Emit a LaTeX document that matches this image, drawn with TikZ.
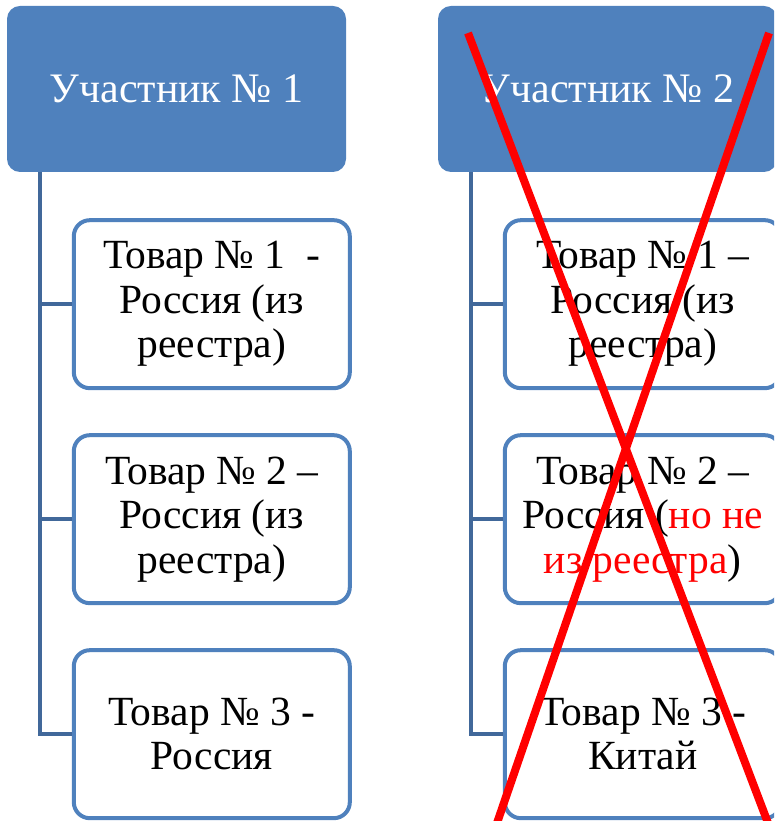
\documentclass[tikz,border=0pt]{standalone}
\usepackage{fontspec}
\setmainfont{Liberation Serif}
\usepackage{xcolor}
\usepackage{tikz}
\usetikzlibrary{positioning}
\definecolor{hdrblue}{HTML}{4F81BD}
\definecolor{trunkblue}{HTML}{41689A}
\tikzstyle{header}=[
fill=hdrblue,
rounded corners=13pt,
minimum width=339pt,
minimum height=166pt,
text=white,
font=\fontsize{42}{45}\selectfont
]
\tikzstyle{item}=[
draw=hdrblue,
line width=4pt,
fill=white,
rounded corners=16pt,
minimum width=276pt,
minimum height=168pt,
align=center,
font=\fontsize{41.5}{44.5}\selectfont
]
\tikzstyle{trunk}=[
draw=trunkblue,
line width=4.5pt
]
\tikzstyle{cross}=[
draw=red,
line width=8pt
]
\begin{document}
\begin{tikzpicture}[x=1pt,y=1pt,node distance=43pt]
\clip (0,0) rectangle (774,821);

\node (part1) [header] at (176.5,732) {Участник № 1};
\node (part2) [header] at (607.5,732) {Участник № 2};

\node (item11) [item, below=46pt of part1.south west, anchor=north west, xshift=65pt]
  {Товар № 1 \ -\\Россия (из\\реестра)};
\node (item12) [item, below=of item11] {Товар № 2 –\\Россия (из\\реестра)};
\node (item13) [item, below=of item12] {Товар № 3 -\\Россия};

\node (item21) [item, below=46pt of part2.south west, anchor=north west, xshift=65pt]
  {Товар № 1 –\\Россия (из\\реестра)};
\node (item22) [item, below=of item21]
  {Товар № 2 –\\Россия (\textcolor{red}{но не}\\\textcolor{red}{из реестра})};
\node (item23) [item, below=of item22] {Товар № 3 -\\Китай};

\draw [trunk] ([xshift=33pt]part1.south west) |- (item13.west);
\draw [trunk] ([xshift=33pt]part1.south west) |- (item11.west);
\draw [trunk] ([xshift=33pt]part1.south west) |- (item12.west);

\draw [trunk] ([xshift=33pt]part2.south west) |- (item23.west);
\draw [trunk] ([xshift=33pt]part2.south west) |- (item21.west);
\draw [trunk] ([xshift=33pt]part2.south west) |- (item22.west);

% crossed out
\coordinate (cross1a) at (468,788);
\coordinate (cross1b) at (768,-2);
\coordinate (cross2a) at (769,788);
\coordinate (cross2b) at (497,-2);
\draw [cross] (cross1a) -- (cross1b);
\draw [cross] (cross2a) -- (cross2b);

\end{tikzpicture}
\end{document}
